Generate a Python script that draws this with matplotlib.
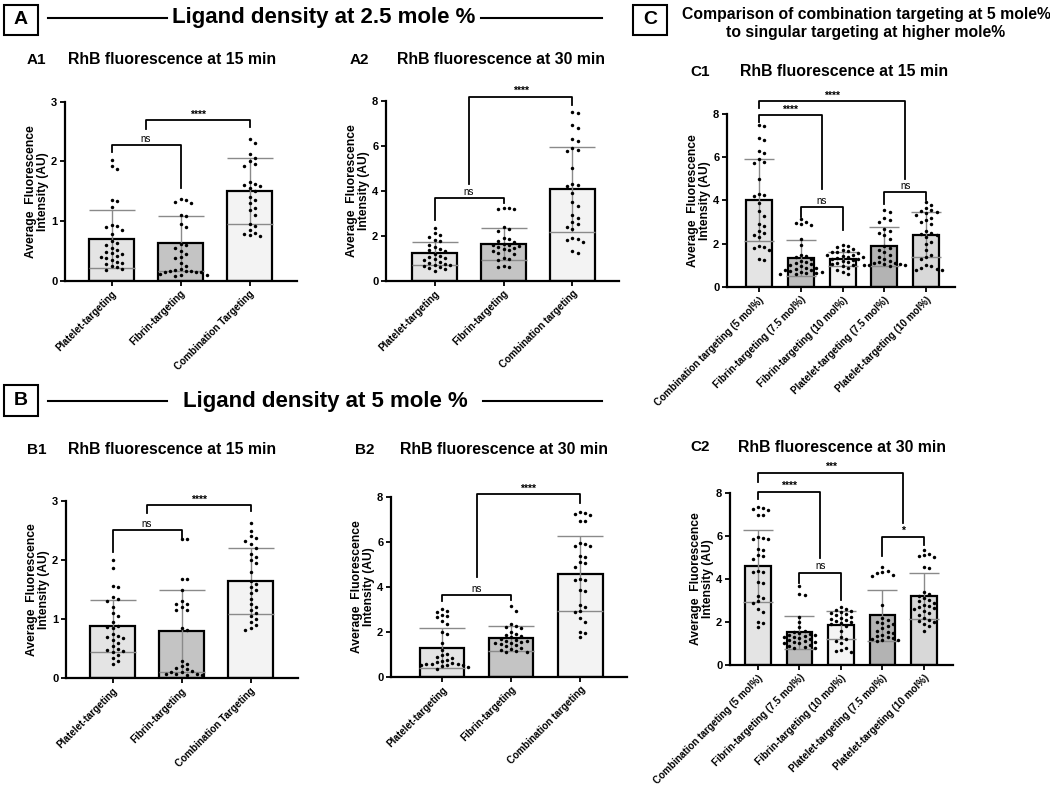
import matplotlib
matplotlib.use("Agg")
import matplotlib.pyplot as plt
from matplotlib.patches import Rectangle
import numpy as np

plt.rcParams['font.family'] = ['Liberation Sans', 'DejaVu Sans']

W, H = 1050, 786

# ---- data ----
ab_labels_1 = ["Platelet-targeting", "Fibrin-targeting", "Combination Targeting"]
ab_labels_2 = ["Platelet-targeting", "Fibrin-targeting", "Combination targeting"]
c_labels = ["Combination targeting (5 mol%)", "Fibrin-targeting (7.5 mol%)",
            "Fibrin-targeting (10 mol%)", "Platelet-targeting (7.5 mol%)",
            "Platelet-targeting (10 mol%)"]

a1_means = [0.70, 0.63, 1.50]
a1_sds = [0.48, 0.46, 0.55]
a1_platelet = [2.02, 1.93, 1.88, 1.35, 1.33, 1.23, 0.93, 0.92, 0.90, 0.85, 0.78, 0.66, 0.63,
               0.60, 0.55, 0.51, 0.48, 0.46, 0.45, 0.42, 0.40, 0.38, 0.35, 0.32, 0.30, 0.28,
               0.25, 0.23, 0.20, 0.18]
a1_fibrin = [1.37, 1.35, 1.32, 1.30, 1.10, 1.08, 0.95, 0.90, 0.62, 0.60, 0.55, 0.50, 0.45,
             0.40, 0.38, 0.30, 0.25, 0.20, 0.18, 0.17, 0.17, 0.16, 0.15, 0.15, 0.14, 0.12,
             0.10, 0.10, 0.08]
a1_combo = [2.38, 2.30, 2.12, 2.05, 2.00, 1.95, 1.92, 1.65, 1.62, 1.60, 1.58, 1.55, 1.50,
            1.40, 1.35, 1.30, 1.22, 1.18, 1.10, 0.95, 0.92, 0.85, 0.80, 0.78, 0.76, 0.75]

a2_means = [1.21, 1.63, 4.06]
a2_sds = [0.53, 0.71, 1.88]
a2_platelet = [2.35, 2.10, 2.05, 1.95, 1.80, 1.75, 1.60, 1.50, 1.40, 1.35, 1.30, 1.20, 1.10,
               1.05, 1.00, 0.95, 0.90, 0.85, 0.80, 0.75, 0.70, 0.70, 0.65, 0.60, 0.55, 0.50,
               0.45]
a2_fibrin = [3.25, 3.25, 3.20, 3.20, 2.40, 2.30, 2.20, 1.90, 1.85, 1.75, 1.70, 1.65, 1.60,
             1.60, 1.55, 1.50, 1.45, 1.40, 1.35, 1.30, 1.25, 1.20, 1.00, 0.95, 0.90, 0.65,
             0.60, 0.60]
combo_5_15 = [7.50, 7.45, 6.90, 6.80, 6.30, 6.20, 5.90, 5.80, 5.75, 5.00, 4.30, 4.25, 4.20,
              3.90, 3.50, 3.30, 2.90, 2.80, 2.60, 2.50, 2.40, 2.30, 1.90, 1.85, 1.80, 1.70,
              1.30, 1.25]

b1_means = [0.89, 0.80, 1.65]
b1_sds = [0.44, 0.70, 0.56]
b1_platelet = [2.00, 1.87, 1.57, 1.55, 1.37, 1.35, 1.30, 1.20, 1.10, 1.05, 0.95, 0.88, 0.87,
               0.85, 0.75, 0.72, 0.70, 0.68, 0.65, 0.60, 0.55, 0.50, 0.48, 0.47, 0.45, 0.40,
               0.35, 0.30, 0.25]
b1_fibrin = [2.35, 2.35, 1.68, 1.68, 1.50, 1.30, 1.25, 1.25, 1.20, 1.15, 1.15, 0.85, 0.82,
             0.30, 0.25, 0.20, 0.18, 0.15, 0.12, 0.10, 0.10, 0.08, 0.08, 0.07, 0.06, 0.05]
b1_combo = [2.63, 2.50, 2.40, 2.37, 2.33, 2.28, 2.20, 2.10, 2.05, 2.00, 1.95, 1.80, 1.65,
            1.60, 1.55, 1.50, 1.45, 1.35, 1.25, 1.20, 1.15, 1.10, 1.05, 1.00, 0.95, 0.90,
            0.85, 0.82]

b2_means = [1.29, 1.71, 4.60]
b2_sds = [0.90, 0.55, 1.67]
b2_platelet = [3.00, 2.95, 2.90, 2.75, 2.70, 2.65, 2.50, 2.35, 2.00, 1.90, 1.50, 1.20, 1.00,
               0.95, 0.90, 0.85, 0.75, 0.70, 0.65, 0.60, 0.58, 0.55, 0.55, 0.52, 0.50, 0.50,
               0.48, 0.45, 0.35]
b2_fibrin = [3.15, 2.95, 2.35, 2.25, 2.20, 2.15, 2.00, 1.90, 1.85, 1.80, 1.75, 1.70, 1.65,
             1.60, 1.60, 1.55, 1.50, 1.50, 1.45, 1.40, 1.35, 1.30, 1.25, 1.20, 1.15, 1.12,
             1.10]
combo_5_30 = [7.35, 7.30, 7.25, 7.20, 6.95, 6.95, 5.95, 5.90, 5.85, 5.85, 5.40, 5.35, 5.10,
              5.05, 4.90, 4.35, 4.30, 4.30, 3.85, 3.80, 3.20, 3.10, 2.95, 2.90, 2.60, 2.45,
              2.00, 1.95, 1.75]

c1_means = [4.03, 1.34, 1.29, 1.88, 2.42]
c1_sds = [1.88, 0.85, 0.33, 0.90, 1.03]
c1_fib75 = [3.15, 3.00, 2.95, 2.90, 2.85, 2.20, 1.95, 1.50, 1.45, 1.40, 1.30, 1.20, 1.15,
            1.10, 1.05, 1.00, 0.95, 0.90, 0.90, 0.85, 0.80, 0.80, 0.75, 0.70, 0.70, 0.65,
            0.65, 0.60, 0.60]
c1_fib10 = [1.95, 1.90, 1.85, 1.75, 1.70, 1.65, 1.60, 1.60, 1.55, 1.50, 1.50, 1.45, 1.40,
            1.40, 1.35, 1.30, 1.30, 1.25, 1.20, 1.15, 1.10, 1.05, 1.00, 0.95, 0.90, 0.80,
            0.70, 0.60]
c1_plt75 = [3.55, 3.45, 3.20, 3.10, 3.00, 2.70, 2.60, 2.50, 2.40, 2.20, 1.90, 1.80, 1.70,
            1.60, 1.50, 1.40, 1.30, 1.20, 1.15, 1.10, 1.10, 1.05, 1.05, 1.00, 1.00, 1.00,
            0.95]
c1_plt10 = [3.95, 3.80, 3.65, 3.55, 3.50, 3.45, 3.40, 3.35, 3.20, 3.10, 3.00, 2.90, 2.60,
            2.50, 2.45, 2.40, 2.30, 2.10, 2.00, 1.70, 1.50, 1.40, 1.30, 1.00, 0.95, 0.90,
            0.85, 0.80, 0.80]

c2_means = [4.61, 1.52, 1.86, 2.31, 3.19]
c2_sds = [1.67, 0.76, 0.66, 1.19, 1.07]
c2_fib75 = [3.65, 3.30, 3.25, 2.25, 2.00, 1.75, 1.60, 1.55, 1.50, 1.45, 1.40, 1.40, 1.35,
            1.30, 1.30, 1.25, 1.20, 1.15, 1.10, 1.05, 1.05, 1.00, 1.00, 0.95, 0.90, 0.85,
            0.80, 0.80]
c2_fib10 = [2.70, 2.60, 2.55, 2.50, 2.45, 2.40, 2.35, 2.30, 2.25, 2.20, 2.15, 2.10, 2.05,
            2.00, 1.95, 1.90, 1.80, 1.60, 1.30, 1.20, 1.10, 1.00, 0.80, 0.70, 0.65, 0.60]
c2_plt75 = [4.55, 4.35, 4.30, 4.25, 4.20, 4.15, 2.80, 2.20, 2.10, 2.00, 1.95, 1.90, 1.80,
            1.70, 1.60, 1.55, 1.50, 1.40, 1.35, 1.30, 1.25, 1.20, 1.15, 1.15, 1.10]
c2_plt10 = [5.35, 5.15, 5.10, 5.05, 5.00, 4.55, 4.50, 3.40, 3.30, 3.20, 3.10, 3.00, 2.95,
            2.90, 2.80, 2.75, 2.70, 2.65, 2.60, 2.50, 2.40, 2.30, 2.20, 2.10, 2.05, 2.00,
            1.90, 1.80, 1.60]

# brackets: (x1, x2, y, left leg end, right leg end, text)
a1_sig = [(0, 1, 2.27, 2.16, 1.55, "ns"), (0.5, 2, 2.69, 2.54, 2.58, "****")]
a2_sig = [(0, 1, 3.66, 2.70, 3.44, "ns"), (0.5, 2, 8.18, 4.30, 7.80, "****")]
b1_sig = [(0, 1, 2.51, 2.14, 2.38, "ns"), (0.5, 2, 2.93, 2.79, 2.83, "****")]
b2_sig = [(0, 1, 3.64, 3.37, 3.42, "ns"), (0.5, 2, 8.13, 4.46, 7.74, "****")]
c1_sig = [(1, 2, 3.70, 3.24, 2.65, "ns"), (3, 4, 4.38, 3.85, 4.00, "ns"),
          (0, 1.5, 7.94, 7.61, 4.55, "****"), (0, 3.5, 8.58, 8.27, 5.00, "****")]
c2_sig = [(1, 2, 4.29, 3.82, 3.02, "ns"), (3, 4, 5.96, 5.06, 5.57, "*"),
          (0, 1.5, 8.05, 7.69, 4.95, "****"), (0, 3.5, 8.93, 8.51, 6.61, "***")]

ab_colors = ["#e4e4e4", "#c4c4c4", "#f3f3f3"]
c_colors = ["#e4e4e4", "#bdbdbd", "#f4f4f4", "#b3b3b3", "#d8d8d8"]


def fx(x):
    return x / W


def fy(y):
    return 1 - y / H


def swarm(ax, xc, vals, step=5.2):
    # simple beeswarm in pixel space so dots sit side by side like Prism
    tr = ax.transData
    inv = tr.inverted()
    placed = []
    out = []
    for v in vals:
        px0, py = tr.transform((xc, v))
        k = 0
        while True:
            for s in ([0] if k == 0 else [k, -k]):
                px = px0 + s * step
                if all((px - qx) ** 2 + (py - qy) ** 2 >= step ** 2 * 0.9 for qx, qy in placed):
                    break
            else:
                k += 1
                continue
            break
        placed.append((px, py))
        out.append(inv.transform((px, py))[0])
    return out


def panel(fig, box, xlim, ymax, yticks, means, sds, groups, colors, labels, sig,
          bar_w, cap):
    l, r, t, b = box
    ax = fig.add_axes([fx(l), fy(b), (r - l) / W, (b - t) / H])
    ax.set_xlim(*xlim)
    ax.set_ylim(0, ymax)
    x = np.arange(len(means))
    ax.bar(x, means, width=bar_w, color=colors, edgecolor="black", linewidth=1.6, zorder=2)
    ax.errorbar(x, means, yerr=sds, fmt="none", ecolor="#8a8a8a", elinewidth=1.0,
                capsize=cap, capthick=1.0, zorder=3)
    for i, vals in enumerate(groups):
        xs = swarm(ax, i, vals)
        ax.plot(xs, vals, "o", ms=2.5, color="black", mec="none", zorder=4)
    for x1, x2, y, y1, y2, txt in sig:
        ax.plot([x1, x1, x2, x2], [y1, y, y, y2], color="black", lw=1.3,
                clip_on=False, zorder=5)
        off = 1.0 if txt == "ns" else 0.3
        ax.annotate(txt, ((x1 + x2) / 2, y), xytext=(0, off), textcoords="offset points",
                    ha="center", va="bottom", fontsize=7 if txt == "ns" else 7.5,
                    fontweight="normal" if txt == "ns" else "bold", annotation_clip=False)
    for s in ["top", "right"]:
        ax.spines[s].set_visible(False)
    for s in ["left", "bottom"]:
        ax.spines[s].set_linewidth(1.6)
    ax.set_yticks(yticks)
    ax.set_yticklabels([str(v) for v in yticks], fontsize=8, fontweight="bold")
    ax.set_xticks(x)
    ax.set_xticklabels(labels, rotation=45, ha="right", rotation_mode="anchor",
                       fontsize=7.1, fontweight="bold")
    ax.tick_params(axis="both", length=3.5, width=1.3, pad=2)
    ax.set_ylabel("Average  Fluorescence\nIntensity (AU)", fontsize=8.7, fontweight="bold",
                  linespacing=1.0, labelpad=1.5)
    ax.patch.set_alpha(0)
    return ax


def header(fig, letter, box, text=None, line_l=None, line_r=None, y=None):
    bx0, by0, bx1, by1 = box
    fig.patches.append(Rectangle((fx(bx0), fy(by1)), (bx1 - bx0) / W, (by1 - by0) / H,
                                 transform=fig.transFigure, fill=False, edgecolor="black",
                                 linewidth=1.5))
    fig.text(fx((bx0 + bx1) / 2), fy((by0 + by1) / 2), letter, ha="center", va="center",
             fontsize=14, fontweight="bold")
    if text:
        fig.text(fx((line_l[1] + line_r[0]) / 2), fy(y), text, ha="center", va="center",
                 fontsize=16, fontweight="bold")
        for x0, x1 in (line_l, line_r):
            fig.lines.append(plt.Line2D([fx(x0), fx(x1)], [fy(y), fy(y)],
                                        transform=fig.transFigure, color="black", lw=1.5))


def subtitle(fig, tag, title, tag_x, title_x, y):
    fig.text(fx(tag_x), fy(y), tag, ha="left", va="center", fontsize=11, fontweight="bold")
    fig.text(fx(title_x), fy(y), title, ha="left", va="center", fontsize=11.4,
             fontweight="bold")


fig = plt.figure(figsize=(10.5, 7.86), dpi=100)

header(fig, "A", (4, 5, 38, 35), "Ligand density at 2.5 mole %", (48, 167), (481, 602), 18)
header(fig, "B", (4, 385, 38, 416), "Ligand density at 5 mole %", (48, 167), (483, 602), 401)
header(fig, "C", (633, 5, 667, 35))
fig.text(fx(866), fy(15), "Comparison of combination targeting at 5 mole%",
         ha="center", va="center", fontsize=11.3, fontweight="bold")
fig.text(fx(866), fy(33), "to singular targeting at higher mole%",
         ha="center", va="center", fontsize=11.3, fontweight="bold")

subtitle(fig, "A1", "RhB fluorescence at 15 min", 27, 68, 60)
subtitle(fig, "A2", "RhB fluorescence at 30 min", 350, 397, 60)
subtitle(fig, "B1", "RhB fluorescence at 15 min", 27, 68, 450)
subtitle(fig, "B2", "RhB fluorescence at 30 min", 355, 400, 450)
subtitle(fig, "C1", "RhB fluorescence at 15 min", 690, 740, 72)
subtitle(fig, "C2", "RhB fluorescence at 30 min", 690, 738, 447)

panel(fig, (65, 297, 101.7, 280.7), (-0.674, 2.688), 3, [0, 1, 2, 3], a1_means, a1_sds,
      [a1_platelet, a1_fibrin, a1_combo], ab_colors, ab_labels_1, a1_sig, 0.65, 16.5)
panel(fig, (386, 619, 100.7, 280.7), (-0.703, 2.674), 8, [0, 2, 4, 6, 8], a2_means, a2_sds,
      [a2_platelet, a2_fibrin, combo_5_15], ab_colors, ab_labels_2, a2_sig, 0.65, 16.5)
panel(fig, (66, 298, 501, 678.3), (-0.674, 2.688), 3, [0, 1, 2, 3], b1_means, b1_sds,
      [b1_platelet, b1_fibrin, b1_combo], ab_colors, ab_labels_1, b1_sig, 0.65, 16.5)
panel(fig, (391, 627, 497.3, 676.7), (-0.74, 2.68), 8, [0, 2, 4, 6, 8], b2_means, b2_sds,
      [b2_platelet, b2_fibrin, combo_5_30], ab_colors, ab_labels_2, b2_sig, 0.65, 16.5)
panel(fig, (727, 955, 114, 287), (-0.766, 4.69), 8, [0, 2, 4, 6, 8], c1_means, c1_sds,
      [combo_5_15, c1_fib75, c1_fib10, c1_plt75, c1_plt10], c_colors, c_labels, c1_sig,
      0.625, 11)
panel(fig, (730, 953, 492.7, 665), (-0.675, 4.70), 8, [0, 2, 4, 6, 8], c2_means, c2_sds,
      [combo_5_30, c2_fib75, c2_fib10, c2_plt75, c2_plt10], c_colors, c_labels, c2_sig,
      0.625, 11)

fig.savefig("out.png", dpi=100)
